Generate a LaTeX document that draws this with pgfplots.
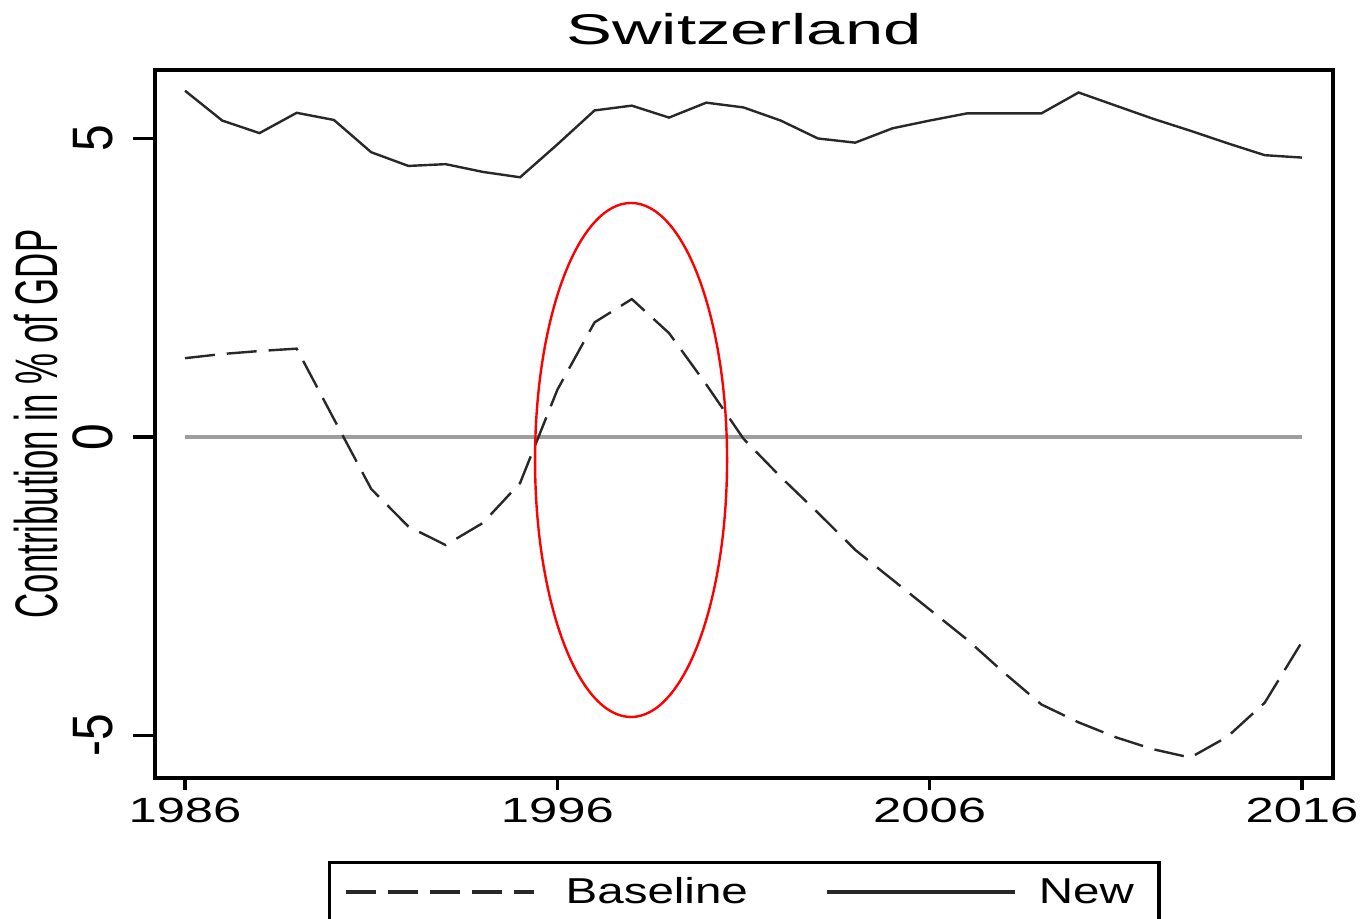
\documentclass[border=0pt]{standalone}
\usepackage{fontspec}
\setmainfont{Liberation Sans}
\newfontfamily\titlefont{Liberation Sans}[FakeStretch=1.6]
\newfontfamily\tickfont{Liberation Sans}[FakeStretch=1.45]
\newfontfamily\legfont{Liberation Sans}[FakeStretch=1.32]
\newfontfamily\ytickfont{Liberation Sans}[FakeStretch=0.84]
\newfontfamily\ylabfont{Liberation Sans}[FakeStretch=0.58]
\usepackage{pgfplots}
\pgfplotsset{compat=1.18}
\definecolor{zeroline}{RGB}{158,158,158}
\definecolor{ser}{RGB}{40,40,40}

\pgfplotstableread{
year baseline new
1986 1.32 5.80
1987 1.39 5.30
1988 1.44 5.09
1989 1.48 5.43
1990 0.30 5.31
1991 -0.87 4.77
1992 -1.50 4.54
1993 -1.81 4.57
1994 -1.44 4.44
1995 -0.77 4.35
1996 0.79 4.90
1997 1.92 5.47
1998 2.31 5.55
1999 1.74 5.35
2000 0.88 5.60
2001 -0.03 5.52
2002 -0.67 5.30
2003 -1.27 5.00
2004 -1.89 4.93
2005 -2.39 5.17
2006 -2.89 5.30
2007 -3.39 5.42
2008 -3.95 5.42
2009 -4.48 5.42
2010 -4.78 5.77
2011 -5.03 5.55
2012 -5.23 5.33
2013 -5.37 5.13
2014 -5.02 4.92
2015 -4.45 4.72
2016 -3.43 4.68
}\datatable

\begin{document}
\begin{tikzpicture}
\begin{axis}[
  scale only axis, width=589pt, height=354pt,
  xmin=1985.194, xmax=2016.833, ymin=-5.712, ymax=6.147,
  axis line style={line width=1.6pt, black},
  tick align=outside,
  tick pos=left,
  major tick length=11pt,
  every tick/.style={black, line width=1.6pt},
  xtick style={/pgfplots/major tick length=6pt},
  xtick={1986,1996,2006,2016}, xticklabels={1986,1996,2006,2016},
  ytick={-5,0,5}, yticklabels={-5,0,5},
  xticklabel style={font=\tickfont\fontsize{17.5pt}{20pt}\selectfont, anchor=north, inner sep=0pt},
  yticklabel style={font=\ytickfont\fontsize{28.5pt}{30pt}\selectfont, rotate=90, anchor=south, inner sep=0pt},
  xticklabel shift=-1pt,
  yticklabel shift=10pt,
  title={Switzerland},
  title style={font=\titlefont\fontsize{21.5pt}{24pt}\selectfont, at={(axis description cs:0.5,1)}, anchor=base, yshift=6.5pt, inner sep=0pt},
  ylabel={Contribution in \% of GDP},
  ylabel style={font=\ylabfont\fontsize{30pt}{32pt}\selectfont, at={(axis description cs:-0.0823,0.5)}, anchor=south, inner sep=0pt},
  legend columns=2,
  legend cell align=left,
  legend image code/.code={\draw[#1, line width=2pt] (0pt,0pt) -- (94pt,0pt);},
  legend style={at={(axis description cs:0.1469,-0.1172)}, anchor=north west,
    draw=black, line width=1.6pt, inner xsep=7pt, inner ysep=7.5pt,
    font=\legfont\fontsize{18pt}{20pt}\selectfont,
    nodes={inner sep=0pt},
    /tikz/every odd column/.append style={column sep=15pt},
    /tikz/every even column/.append style={column sep=38.5pt}},
]
\addplot[zeroline, line width=1.6pt, forget plot] coordinates {(1986,0) (2016,0)};
\addplot[ser, line width=1.2pt, dash pattern=on 15pt off 6pt] table[x=year, y=baseline] {\datatable};
\addlegendentry{Baseline}
\addplot[ser, line width=1.2pt] table[x=year, y=new] {\datatable};
\addlegendentry{\kern-4pt New\kern5.5pt}
\draw[red, line width=1.2pt] (axis cs:1997.98,-0.385) ellipse [x radius=48pt, y radius=128.5pt];
\end{axis}
\pgfresetboundingbox
\path[use as bounding box] (-77.5pt,-70pt) rectangle (603.5pt,389pt);
\end{tikzpicture}
\end{document}
